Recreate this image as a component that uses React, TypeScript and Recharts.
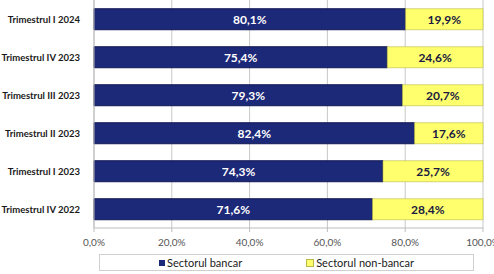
import React from 'react';
import { BarChart, Bar, XAxis, YAxis, CartesianGrid, LabelList } from 'recharts';

const categories = ['Trimestrul I 2024', 'Trimestrul IV 2023', 'Trimestrul III 2023', 'Trimestrul II 2023', 'Trimestrul I 2023', 'Trimestrul IV 2022'];
const bancar = [80.1, 75.4, 79.3, 82.4, 74.3, 71.6];
const nonBancar = [19.9, 24.6, 20.7, 17.6, 25.7, 28.4];
const xTicks = [0, 20, 40, 60, 80, 100];

const data = categories.map((c, i) => ({ name: c, bancar: bancar[i], non: nonBancar[i] }));

const fmt = (v: number) => v.toFixed(1).replace('.', ',') + '%';
const FONT = 'Lato, "Open Sans", sans-serif';
const NAVY = '#1C2878';
const YELLOW = '#FFFF6E';

const CatTick = (props: any) => {
  const { x, y, payload } = props;
  return (
    <text x={x - 6} y={y} dy={3.5} textAnchor="end" fill="#1a1a1a" fontSize={9.5} fontWeight={700} fontFamily={FONT}>
      {payload.value}
    </text>
  );
};

export default function App() {
  return (
    <div style={{ position: 'absolute', left: 0, top: 0, width: 494, height: 274, background: '#fff', fontFamily: FONT }}>
      <BarChart
        width={494}
        height={274}
        data={data}
        layout="vertical"
        margin={{ top: 0, right: 11, bottom: 26, left: 0 }}
        barCategoryGap="23%"
      >
        <CartesianGrid horizontal={false} stroke="#c8c8c8" />
        <XAxis
          type="number"
          domain={[0, 100]}
          ticks={xTicks}
          tickFormatter={(v: number) => fmt(v)}
          height={20}
          stroke="#bdbdbd"
          tickSize={4}
          tickMargin={7}
          tick={{ fill: '#555', fontSize: 10, fontFamily: FONT }}
          interval={0}
        />
        <YAxis
          type="category"
          dataKey="name"
          width={94}
          stroke="#bdbdbd"
          tickLine={false}
          tick={<CatTick />}
          interval={0}
        />
        <Bar dataKey="bancar" stackId="a" fill={NAVY} stroke="#121a55" strokeWidth={1} isAnimationActive={false}>
          <LabelList dataKey="bancar" position="center" formatter={(v: number) => fmt(v)} fill="#ffffff" fontSize={12} fontWeight={700} fontFamily={FONT} />
        </Bar>
        <Bar dataKey="non" stackId="a" fill={YELLOW} stroke="#b9b94a" strokeWidth={0.6} isAnimationActive={false}>
          <LabelList dataKey="non" position="center" formatter={(v: number) => fmt(v)} fill="#1a1a40" fontSize={12} fontWeight={700} fontFamily={FONT} />
        </Bar>
      </BarChart>
      <div style={{ position: 'absolute', left: 99, top: 254, width: 375, height: 17, border: '1px solid #d0d0d0', boxSizing: 'border-box', display: 'flex', alignItems: 'center', justifyContent: 'center', fontSize: 11, color: '#1a1a1a', fontFamily: FONT }}>
        <span style={{ display: 'inline-block', width: 6, height: 6, background: NAVY, marginRight: 2 }} />
        <span style={{ marginRight: 64 }}>Sectorul bancar</span>
        <span style={{ display: 'inline-block', width: 6, height: 6, background: YELLOW, border: '1px solid #b9b94a', marginRight: 2 }} />
        <span>Sectorul non-bancar</span>
      </div>
    </div>
  );
}
